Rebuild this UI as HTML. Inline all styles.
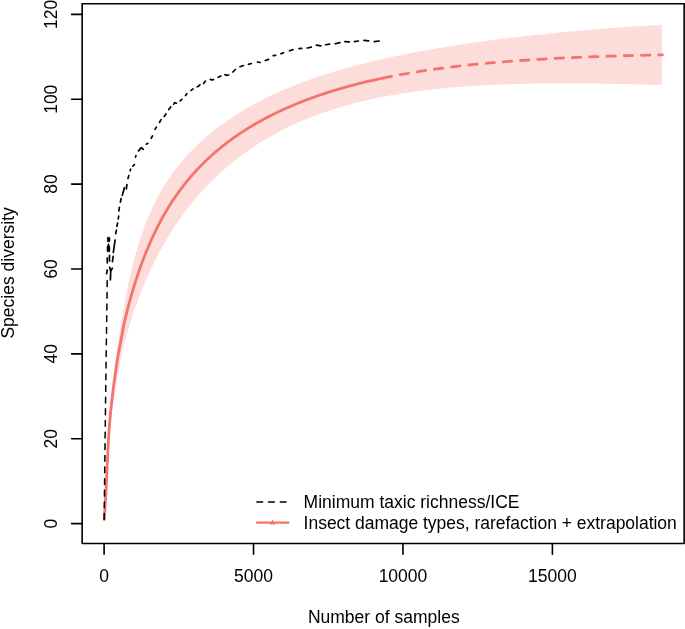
<!DOCTYPE html>
<html><head><meta charset="utf-8"><title>Species diversity</title>
<style>html,body{margin:0;padding:0;background:#fff}svg{display:block}</style></head>
<body>
<svg width="685" height="629" viewBox="0 0 685 629">
<rect width="685" height="629" fill="#fff"/>
<path d="M104.27 519.40 L104.39 517.59 L104.50 515.78 L104.62 513.96 L104.73 512.15 L104.84 510.34 L104.95 508.53 L105.06 506.72 L105.16 504.90 L105.27 503.09 L105.37 501.28 L105.47 499.47 L105.57 497.65 L105.66 495.84 L105.76 494.03 L105.85 492.22 L105.94 490.41 L106.03 488.59 L106.12 486.78 L106.20 484.97 L106.28 483.16 L106.37 481.35 L106.44 479.53 L106.52 477.72 L106.59 475.91 L106.66 474.10 L106.73 472.28 L106.80 470.47 L106.86 468.66 L106.93 466.85 L107.00 465.04 L107.07 463.22 L107.14 461.41 L107.21 459.60 L107.27 457.79 L107.34 455.98 L107.40 454.16 L107.47 452.35 L107.53 450.54 L107.60 448.73 L107.67 446.92 L107.74 445.10 L107.81 443.29 L107.89 441.48 L107.97 439.67 L108.06 437.85 L108.15 436.04 L108.24 434.23 L108.33 432.42 L108.43 430.61 L108.54 428.79 L108.64 426.98 L108.75 425.17 L108.87 423.36 L108.98 421.55 L109.10 419.73 L109.23 417.92 L109.37 416.11 L109.51 414.30 L109.66 412.48 L109.82 410.67 L109.98 408.86 L110.14 407.05 L110.30 405.24 L110.47 403.42 L110.64 401.61 L110.81 399.80 L110.98 397.99 L111.16 396.18 L111.35 394.36 L111.53 392.55 L111.72 390.74 L111.91 388.93 L112.11 387.12 L112.31 385.30 L112.51 383.49 L112.72 381.68 L112.93 379.87 L113.15 378.05 L113.36 376.24 L113.58 374.43 L113.80 372.62 L114.02 370.81 L114.24 368.99 L114.45 367.18 L114.67 365.37 L114.90 363.56 L115.13 361.75 L115.36 359.93 L115.60 358.12 L115.85 356.31 L116.12 354.50 L116.40 352.68 L116.70 350.87 L117.00 349.06 L117.32 347.25 L117.63 345.44 L117.94 343.62 L118.24 341.81 L118.54 340.00 L120.35 327.84 L122.17 316.58 L123.99 306.13 L125.81 296.42 L127.62 287.38 L129.44 278.96 L131.26 271.09 L133.08 263.74 L134.89 256.85 L136.71 250.39 L138.53 244.31 L140.35 238.59 L142.17 233.20 L143.98 228.10 L145.80 223.28 L147.62 218.71 L149.44 214.37 L151.25 210.24 L153.07 206.31 L154.89 202.56 L156.71 198.97 L158.52 195.54 L160.34 192.26 L162.16 189.10 L163.98 186.07 L165.79 183.16 L167.61 180.35 L169.43 177.63 L171.25 175.02 L173.06 172.48 L174.88 170.03 L176.70 167.66 L178.52 165.36 L180.33 163.12 L182.15 160.95 L183.97 158.84 L185.79 156.78 L187.61 154.78 L189.42 152.83 L191.24 150.93 L193.06 149.07 L194.88 147.26 L196.69 145.49 L198.51 143.76 L200.33 142.07 L202.15 140.41 L203.96 138.79 L205.78 137.21 L207.60 135.65 L209.42 134.13 L211.23 132.64 L213.05 131.17 L214.87 129.74 L216.69 128.33 L218.50 126.94 L220.32 125.59 L222.14 124.25 L223.96 122.94 L225.77 121.66 L227.59 120.39 L229.41 119.15 L231.23 117.93 L233.05 116.73 L234.86 115.55 L236.68 114.39 L238.50 113.25 L240.32 112.13 L242.13 111.02 L243.95 109.94 L245.77 108.87 L247.59 107.81 L249.40 106.78 L251.22 105.75 L253.04 104.75 L254.86 103.76 L256.67 102.78 L258.49 101.82 L260.31 100.88 L262.13 99.95 L263.94 99.03 L265.76 98.12 L267.58 97.23 L269.40 96.35 L271.21 95.49 L273.03 94.63 L274.85 93.79 L276.67 92.96 L278.49 92.14 L280.30 91.34 L282.12 90.54 L283.94 89.76 L285.76 88.98 L287.57 88.22 L289.39 87.46 L291.21 86.72 L293.03 85.99 L294.84 85.26 L296.66 84.55 L298.48 83.85 L300.30 83.15 L302.11 82.46 L303.93 81.79 L305.75 81.12 L307.57 80.46 L309.38 79.81 L311.20 79.16 L313.02 78.53 L314.84 77.90 L316.66 77.28 L318.47 76.66 L320.29 76.06 L322.11 75.46 L323.93 74.87 L325.74 74.29 L327.56 73.71 L329.38 73.14 L331.20 72.58 L333.01 72.02 L334.83 71.47 L336.65 70.93 L338.47 70.39 L340.28 69.86 L342.10 69.34 L343.92 68.82 L345.74 68.31 L347.55 67.80 L349.37 67.30 L351.19 66.80 L353.01 66.31 L354.82 65.83 L356.64 65.35 L358.46 64.87 L360.28 64.40 L362.10 63.94 L363.91 63.48 L365.73 63.03 L367.55 62.58 L369.37 62.13 L371.18 61.69 L373.00 61.26 L374.82 60.82 L376.64 60.40 L378.45 59.98 L380.27 59.56 L382.09 59.14 L383.91 58.73 L385.72 58.33 L387.54 57.93 L389.36 57.53 L391.18 57.14 L392.99 56.75 L394.81 56.36 L396.63 55.98 L398.45 55.60 L400.26 55.23 L402.08 54.86 L403.90 54.49 L405.72 54.13 L407.54 53.76 L409.35 53.41 L411.17 53.05 L412.99 52.70 L414.81 52.36 L416.62 52.01 L418.44 51.67 L420.26 51.33 L422.08 51.00 L423.89 50.67 L425.71 50.34 L427.53 50.02 L429.35 49.69 L431.16 49.37 L432.98 49.06 L434.80 48.74 L436.62 48.43 L438.43 48.12 L440.25 47.82 L442.07 47.51 L443.89 47.21 L445.71 46.92 L447.52 46.62 L449.34 46.33 L451.16 46.04 L452.98 45.75 L454.79 45.47 L456.61 45.18 L458.43 44.90 L460.25 44.63 L462.06 44.35 L463.88 44.08 L465.70 43.81 L467.52 43.54 L469.33 43.27 L471.15 43.01 L472.97 42.75 L474.79 42.49 L476.60 42.23 L478.42 41.98 L480.24 41.72 L482.06 41.47 L483.87 41.22 L485.69 40.98 L487.51 40.73 L489.33 40.49 L491.15 40.25 L492.96 40.01 L494.78 39.77 L496.60 39.54 L498.42 39.31 L500.23 39.08 L502.05 38.85 L503.87 38.62 L505.69 38.40 L507.50 38.17 L509.32 37.95 L511.14 37.73 L512.96 37.51 L514.77 37.30 L516.59 37.08 L518.41 36.87 L520.23 36.66 L522.04 36.45 L523.86 36.24 L525.68 36.04 L527.50 35.84 L529.31 35.63 L531.13 35.43 L532.95 35.23 L534.77 35.04 L536.59 34.84 L538.40 34.65 L540.22 34.46 L542.04 34.26 L543.86 34.08 L545.67 33.89 L547.49 33.70 L549.31 33.52 L551.13 33.33 L552.94 33.15 L554.76 32.97 L556.58 32.80 L558.40 32.62 L560.21 32.44 L562.03 32.27 L563.85 32.10 L565.67 31.93 L567.48 31.76 L569.30 31.59 L571.12 31.42 L572.94 31.26 L574.75 31.10 L576.57 30.93 L578.39 30.77 L580.21 30.61 L582.03 30.46 L583.84 30.30 L585.66 30.14 L587.48 29.99 L589.30 29.84 L591.11 29.69 L592.93 29.54 L594.75 29.39 L596.57 29.24 L598.38 29.10 L600.20 28.95 L602.02 28.81 L603.84 28.67 L605.65 28.53 L607.47 28.39 L609.29 28.25 L611.11 28.12 L612.92 27.98 L614.74 27.85 L616.56 27.72 L618.38 27.59 L620.20 27.46 L622.01 27.33 L623.83 27.20 L625.65 27.07 L627.47 26.95 L629.28 26.83 L631.10 26.70 L632.92 26.58 L634.74 26.46 L636.55 26.35 L638.37 26.23 L640.19 26.11 L642.01 26.00 L643.82 25.88 L645.64 25.77 L647.46 25.66 L649.28 25.55 L651.09 25.44 L652.91 25.33 L654.73 25.23 L656.55 25.12 L658.36 25.02 L660.18 24.92 L662.00 24.82 L662.00 85.11 L660.20 85.06 L658.41 85.00 L656.61 84.94 L654.82 84.89 L653.02 84.84 L651.23 84.78 L649.43 84.73 L647.64 84.68 L645.84 84.63 L644.05 84.58 L642.25 84.53 L640.46 84.48 L638.66 84.43 L636.86 84.39 L635.07 84.34 L633.27 84.29 L631.48 84.25 L629.68 84.21 L627.89 84.16 L626.09 84.12 L624.30 84.08 L622.50 84.04 L620.71 84.00 L618.91 83.97 L617.11 83.93 L615.32 83.89 L613.52 83.86 L611.73 83.83 L609.93 83.79 L608.14 83.76 L606.34 83.73 L604.55 83.70 L602.75 83.67 L600.96 83.65 L599.16 83.62 L597.37 83.60 L595.57 83.57 L593.77 83.55 L591.98 83.53 L590.18 83.51 L588.39 83.49 L586.59 83.47 L584.80 83.46 L583.00 83.44 L581.21 83.43 L579.41 83.41 L577.62 83.40 L575.82 83.39 L574.03 83.39 L572.23 83.38 L570.43 83.37 L568.64 83.37 L566.84 83.37 L565.05 83.37 L563.25 83.37 L561.46 83.37 L559.66 83.37 L557.87 83.38 L556.07 83.39 L554.28 83.39 L552.48 83.40 L550.69 83.42 L548.89 83.43 L547.09 83.44 L545.30 83.46 L543.50 83.48 L541.71 83.50 L539.91 83.52 L538.12 83.55 L536.32 83.57 L534.53 83.60 L532.73 83.63 L530.94 83.66 L529.14 83.70 L527.34 83.73 L525.55 83.77 L523.75 83.81 L521.96 83.85 L520.16 83.90 L518.37 83.94 L516.57 83.99 L514.78 84.04 L512.98 84.10 L511.19 84.15 L509.39 84.21 L507.60 84.27 L505.80 84.33 L504.00 84.40 L502.21 84.47 L500.41 84.54 L498.62 84.61 L496.82 84.68 L495.03 84.76 L493.23 84.84 L491.44 84.92 L489.64 85.01 L487.85 85.10 L486.05 85.19 L484.26 85.28 L482.46 85.38 L480.66 85.48 L478.87 85.58 L477.07 85.69 L475.28 85.80 L473.48 85.91 L471.69 86.03 L469.89 86.15 L468.10 86.27 L466.30 86.39 L464.51 86.52 L462.71 86.65 L460.91 86.79 L459.12 86.93 L457.32 87.07 L455.53 87.22 L453.73 87.36 L451.94 87.52 L450.14 87.68 L448.35 87.84 L446.55 88.00 L444.76 88.17 L442.96 88.34 L441.17 88.52 L439.37 88.70 L437.57 88.88 L435.78 89.07 L433.98 89.27 L432.19 89.46 L430.39 89.67 L428.60 89.87 L426.80 90.08 L425.01 90.30 L423.21 90.52 L421.42 90.74 L419.62 90.97 L417.83 91.21 L416.03 91.45 L414.23 91.69 L412.44 91.94 L410.64 92.20 L408.85 92.46 L407.05 92.72 L405.26 92.99 L403.46 93.27 L401.67 93.55 L399.87 93.84 L398.08 94.13 L396.28 94.43 L394.48 94.73 L392.69 95.04 L390.89 95.36 L389.10 95.68 L387.30 96.01 L385.51 96.35 L383.71 96.69 L381.92 97.04 L380.12 97.39 L378.33 97.75 L376.53 98.12 L374.74 98.50 L372.94 98.88 L371.14 99.27 L369.35 99.66 L367.55 100.07 L365.76 100.48 L363.96 100.90 L362.17 101.32 L360.37 101.76 L358.58 102.20 L356.78 102.65 L354.99 103.11 L353.19 103.57 L351.40 104.05 L349.60 104.53 L347.80 105.02 L346.01 105.52 L344.21 106.03 L342.42 106.55 L340.62 107.07 L338.83 107.61 L337.03 108.15 L335.24 108.71 L333.44 109.27 L331.65 109.85 L329.85 110.43 L328.06 111.03 L326.26 111.63 L324.46 112.24 L322.67 112.87 L320.87 113.51 L319.08 114.15 L317.28 114.81 L315.49 115.48 L313.69 116.16 L311.90 116.85 L310.10 117.56 L308.31 118.27 L306.51 119.00 L304.71 119.74 L302.92 120.49 L301.12 121.26 L299.33 122.03 L297.53 122.82 L295.74 123.63 L293.94 124.45 L292.15 125.28 L290.35 126.12 L288.56 126.98 L286.76 127.86 L284.97 128.74 L283.17 129.65 L281.37 130.56 L279.58 131.50 L277.78 132.45 L275.99 133.41 L274.19 134.39 L272.40 135.39 L270.60 136.40 L268.81 137.43 L267.01 138.48 L265.22 139.54 L263.42 140.62 L261.63 141.72 L259.83 142.84 L258.03 143.98 L256.24 145.14 L254.44 146.31 L252.65 147.51 L250.85 148.72 L249.06 149.96 L247.26 151.22 L245.47 152.49 L243.67 153.79 L241.88 155.12 L240.08 156.46 L238.28 157.83 L236.49 159.22 L234.69 160.63 L232.90 162.07 L231.10 163.53 L229.31 165.02 L227.51 166.54 L225.72 168.08 L223.92 169.65 L222.13 171.24 L220.33 172.87 L218.54 174.52 L216.74 176.21 L214.94 177.92 L213.15 179.67 L211.35 181.44 L209.56 183.26 L207.76 185.10 L205.97 186.98 L204.17 188.89 L202.38 190.84 L200.58 192.83 L198.79 194.86 L196.99 196.93 L195.20 199.04 L193.40 201.19 L191.60 203.38 L189.81 205.62 L188.01 207.91 L186.22 210.24 L184.42 212.62 L182.63 215.06 L180.83 217.55 L179.04 220.09 L177.24 222.69 L175.45 225.35 L173.65 228.08 L171.85 230.86 L170.06 233.72 L168.26 236.64 L166.47 239.64 L164.67 242.71 L162.88 245.86 L161.08 249.09 L159.29 252.41 L157.49 255.82 L155.70 259.32 L153.90 262.92 L152.11 266.63 L150.31 270.44 L148.51 274.37 L146.72 278.42 L144.92 282.59 L143.13 286.90 L141.33 291.35 L139.54 295.96 L137.74 300.72 L135.95 305.66 L134.15 310.78 L132.36 316.11 L130.56 321.67 L128.77 327.48 L126.97 333.57 L125.17 340.00 L124.75 341.81 L124.31 343.62 L123.87 345.44 L123.43 347.25 L122.99 349.06 L122.56 350.87 L122.13 352.68 L121.73 354.50 L121.34 356.31 L120.97 358.12 L120.60 359.93 L120.25 361.75 L119.91 363.56 L119.57 365.37 L119.23 367.18 L118.90 368.99 L118.57 370.81 L118.24 372.62 L117.91 374.43 L117.59 376.24 L117.27 378.05 L116.95 379.87 L116.63 381.68 L116.32 383.49 L116.02 385.30 L115.72 387.12 L115.42 388.93 L115.14 390.74 L114.85 392.55 L114.57 394.36 L114.30 396.18 L114.02 397.99 L113.76 399.80 L113.50 401.61 L113.24 403.42 L112.99 405.24 L112.74 407.05 L112.50 408.86 L112.25 410.67 L112.02 412.48 L111.79 414.30 L111.57 416.11 L111.36 417.92 L111.15 419.73 L110.96 421.55 L110.77 423.36 L110.58 425.17 L110.40 426.98 L110.23 428.79 L110.06 430.61 L109.89 432.42 L109.73 434.23 L109.58 436.04 L109.43 437.85 L109.28 439.67 L109.14 441.48 L109.01 443.29 L108.88 445.10 L108.75 446.92 L108.63 448.73 L108.51 450.54 L108.40 452.35 L108.28 454.16 L108.17 455.98 L108.06 457.79 L107.94 459.60 L107.83 461.41 L107.72 463.22 L107.61 465.04 L107.50 466.85 L107.40 468.66 L107.29 470.47 L107.19 472.28 L107.08 474.10 L106.98 475.91 L106.88 477.72 L106.77 479.53 L106.66 481.35 L106.56 483.16 L106.45 484.97 L106.33 486.78 L106.22 488.59 L106.11 490.41 L106.00 492.22 L105.89 494.03 L105.78 495.84 L105.66 497.65 L105.55 499.47 L105.44 501.28 L105.32 503.09 L105.21 504.90 L105.09 506.72 L104.98 508.53 L104.86 510.34 L104.74 512.15 L104.63 513.96 L104.51 515.78 L104.39 517.59 L104.27 519.40Z" fill="#F8766D" fill-opacity="0.25" stroke="none"/>
<path d="M104.27 519.40 L104.36 518.09 L104.44 516.79 L104.52 515.48 L104.61 514.17 L104.69 512.86 L104.77 511.56 L104.85 510.25 L104.94 508.94 L105.02 507.63 L105.09 506.33 L105.17 505.02 L105.25 503.71 L105.33 502.40 L105.40 501.10 L105.48 499.79 L105.56 498.48 L105.63 497.17 L105.70 495.87 L105.78 494.56 L105.85 493.25 L105.92 491.94 L105.99 490.64 L106.06 489.33 L106.13 488.02 L106.20 486.72 L106.27 485.41 L106.34 484.10 L106.41 482.79 L106.47 481.49 L106.54 480.18 L106.60 478.87 L106.66 477.56 L106.72 476.26 L106.78 474.95 L106.84 473.64 L106.90 472.33 L106.96 471.03 L107.02 469.72 L107.08 468.41 L107.14 467.10 L107.20 465.80 L107.26 464.49 L107.32 463.18 L107.38 461.87 L107.44 460.57 L107.50 459.26 L107.56 457.95 L107.62 456.65 L107.68 455.34 L107.74 454.03 L107.80 452.72 L107.86 451.42 L107.93 450.11 L107.99 448.80 L108.05 447.49 L108.12 446.19 L108.18 444.88 L108.25 443.57 L108.32 442.26 L108.40 440.96 L108.47 439.65 L108.55 438.34 L108.63 437.03 L108.71 435.73 L108.79 434.42 L108.88 433.11 L108.97 431.80 L109.06 430.50 L109.15 429.19 L109.24 427.88 L109.34 426.57 L109.44 425.27 L109.54 423.96 L109.64 422.65 L109.75 421.35 L109.86 420.04 L109.97 418.73 L110.08 417.42 L110.20 416.12 L110.32 414.81 L110.45 413.50 L110.58 412.19 L110.72 410.89 L110.85 409.58 L110.99 408.27 L111.13 406.96 L111.28 405.66 L111.42 404.35 L111.56 403.04 L111.71 401.73 L111.85 400.43 L112.00 399.12 L112.16 397.81 L112.31 396.50 L112.47 395.20 L112.63 393.89 L112.79 392.58 L112.95 391.28 L113.11 389.97 L113.28 388.66 L113.44 387.35 L113.61 386.05 L113.79 384.74 L113.96 383.43 L114.14 382.12 L114.32 380.82 L114.50 379.51 L114.68 378.20 L114.87 376.89 L115.06 375.59 L115.24 374.28 L115.43 372.97 L115.62 371.66 L115.81 370.36 L116.00 369.05 L116.18 367.74 L116.37 366.43 L116.56 365.13 L116.76 363.82 L116.95 362.51 L117.15 361.21 L117.35 359.90 L117.56 358.59 L117.77 357.28 L117.99 355.98 L118.21 354.67 L118.45 353.36 L118.69 352.05 L118.94 350.75 L119.20 349.44 L119.45 348.13 L119.71 346.82 L119.98 345.52 L120.24 344.21 L120.49 342.90 L120.75 341.59 L121.00 340.29 L121.24 338.98 L121.47 337.67 L121.70 336.36 L121.93 335.06 L122.16 333.75 L122.39 332.44 L122.62 331.14 L122.86 329.83 L123.10 328.52 L123.36 327.21 L123.62 325.91 L123.90 324.60 L124.18 323.29 L124.47 321.98 L124.76 320.68 L125.06 319.37 L125.37 318.06 L125.68 316.75 L126.00 315.45 L126.33 314.14 L126.66 312.83 L127.00 311.52 L128.17 306.92 L129.34 302.49 L130.51 298.22 L131.68 294.09 L132.85 290.10 L134.02 286.23 L135.19 282.48 L136.36 278.84 L137.53 275.30 L138.70 271.86 L139.87 268.52 L141.04 265.26 L142.21 262.08 L143.38 258.99 L144.55 255.98 L145.73 253.03 L146.90 250.16 L148.07 247.36 L149.24 244.63 L150.41 241.95 L151.58 239.34 L152.75 236.79 L153.92 234.30 L155.09 231.86 L156.26 229.47 L157.43 227.14 L158.60 224.85 L159.77 222.62 L160.94 220.43 L162.11 218.28 L163.28 216.18 L164.45 214.12 L165.62 212.11 L166.79 210.13 L167.96 208.19 L169.13 206.29 L170.30 204.43 L171.47 202.60 L172.64 200.80 L173.81 199.04 L174.98 197.31 L176.15 195.62 L177.32 193.95 L178.49 192.31 L179.66 190.70 L180.83 189.12 L182.01 187.57 L183.18 186.04 L184.35 184.54 L185.52 183.06 L186.69 181.61 L187.86 180.18 L189.03 178.78 L190.20 177.40 L191.37 176.04 L192.54 174.70 L193.71 173.38 L194.88 172.08 L196.05 170.80 L197.22 169.54 L198.39 168.30 L199.56 167.08 L200.73 165.87 L201.90 164.68 L203.07 163.51 L204.24 162.36 L205.41 161.22 L206.58 160.10 L207.75 159.00 L208.92 157.90 L210.09 156.83 L211.26 155.77 L212.43 154.72 L213.60 153.69 L214.77 152.66 L215.94 151.66 L217.11 150.66 L218.28 149.68 L219.46 148.71 L220.63 147.76 L221.80 146.81 L222.97 145.88 L224.14 144.96 L225.31 144.05 L226.48 143.15 L227.65 142.26 L228.82 141.38 L229.99 140.51 L231.16 139.65 L232.33 138.81 L233.50 137.97 L234.67 137.14 L235.84 136.32 L237.01 135.51 L238.18 134.71 L239.35 133.92 L240.52 133.14 L241.69 132.36 L242.86 131.60 L244.03 130.84 L245.20 130.09 L246.37 129.35 L247.54 128.62 L248.71 127.90 L249.88 127.18 L251.05 126.47 L252.22 125.77 L253.39 125.07 L254.56 124.39 L255.74 123.71 L256.91 123.03 L258.08 122.37 L259.25 121.71 L260.42 121.06 L261.59 120.41 L262.76 119.77 L263.93 119.14 L265.10 118.51 L266.27 117.89 L267.44 117.28 L268.61 116.67 L269.78 116.07 L270.95 115.47 L272.12 114.88 L273.29 114.30 L274.46 113.72 L275.63 113.15 L276.80 112.58 L277.97 112.02 L279.14 111.47 L280.31 110.92 L281.48 110.37 L282.65 109.83 L283.82 109.30 L284.99 108.77 L286.16 108.24 L287.33 107.72 L288.50 107.21 L289.67 106.70 L290.84 106.19 L292.02 105.69 L293.19 105.20 L294.36 104.71 L295.53 104.22 L296.70 103.74 L297.87 103.26 L299.04 102.79 L300.21 102.32 L301.38 101.86 L302.55 101.40 L303.72 100.94 L304.89 100.49 L306.06 100.04 L307.23 99.60 L308.40 99.16 L309.57 98.73 L310.74 98.30 L311.91 97.87 L313.08 97.45 L314.25 97.03 L315.42 96.61 L316.59 96.20 L317.76 95.80 L318.93 95.39 L320.10 94.99 L321.27 94.60 L322.44 94.20 L323.61 93.81 L324.78 93.43 L325.95 93.05 L327.12 92.67 L328.29 92.29 L329.47 91.92 L330.64 91.55 L331.81 91.19 L332.98 90.83 L334.15 90.47 L335.32 90.11 L336.49 89.76 L337.66 89.41 L338.83 89.07 L340.00 88.72 L341.17 88.39 L342.34 88.05 L343.51 87.72 L344.68 87.39 L345.85 87.06 L347.02 86.73 L348.19 86.41 L349.36 86.09 L350.53 85.78 L351.70 85.47 L352.87 85.16 L354.04 84.85 L355.21 84.54 L356.38 84.24 L357.55 83.94 L358.72 83.65 L359.89 83.35 L361.06 83.06 L362.23 82.78 L363.40 82.49 L364.57 82.21 L365.75 81.93 L366.92 81.65 L368.09 81.37 L369.26 81.10 L370.43 80.83 L371.60 80.56 L372.77 80.29 L373.94 80.03 L375.11 79.77 L376.28 79.51 L377.45 79.26 L378.62 79.00 L379.79 78.75 L380.96 78.50 L382.13 78.25 L383.30 78.01" fill="none" stroke="#F2746D" stroke-width="2.8" stroke-linecap="round" stroke-linejoin="round"/>
<path d="M383.30 78.01 L386.44 77.36 L389.57 76.73 L392.71 76.12 L395.84 75.52 L398.98 74.93 L402.12 74.36 L405.25 73.80 L408.39 73.26 L411.52 72.73 L414.66 72.21 L417.80 71.70 L420.93 71.21 L424.07 70.73 L427.20 70.26 L430.34 69.80 L433.48 69.35 L436.61 68.91 L439.75 68.49 L442.88 68.07 L446.02 67.67 L449.16 67.27 L452.29 66.89 L455.43 66.51 L458.56 66.14 L461.70 65.78 L464.83 65.44 L467.97 65.09 L471.11 64.76 L474.24 64.44 L477.38 64.12 L480.51 63.82 L483.65 63.52 L486.79 63.22 L489.92 62.94 L493.06 62.66 L496.19 62.39 L499.33 62.12 L502.47 61.87 L505.60 61.62 L508.74 61.37 L511.87 61.13 L515.01 60.90 L518.15 60.67 L521.28 60.45 L524.42 60.24 L527.55 60.03 L530.69 59.83 L533.83 59.63 L536.96 59.44 L540.10 59.25 L543.23 59.07 L546.37 58.89 L549.51 58.71 L552.64 58.55 L555.78 58.38 L558.91 58.22 L562.05 58.07 L565.19 57.92 L568.32 57.77 L571.46 57.63 L574.59 57.49 L577.73 57.35 L580.87 57.22 L584.00 57.09 L587.14 56.97 L590.27 56.85 L593.41 56.73 L596.54 56.62 L599.68 56.51 L602.82 56.40 L605.95 56.30 L609.09 56.20 L612.22 56.10 L615.36 56.01 L618.50 55.92 L621.63 55.83 L624.77 55.74 L627.90 55.66 L631.04 55.58 L634.18 55.50 L637.31 55.42 L640.45 55.35 L643.58 55.28 L646.72 55.21 L649.86 55.14 L652.99 55.08 L656.13 55.02 L659.26 54.96 L662.40 54.90" fill="none" stroke="#F2746D" stroke-width="2.8" stroke-dasharray="8.44 8.86" stroke-linecap="round" stroke-linejoin="round"/>
<path d="M104.15 519.4 L105.2 430 L106.45 335 L107.0 300 L107.2 280.4" fill="none" stroke="#000" stroke-width="1.5" stroke-dasharray="5.8 5.84" stroke-linecap="round" stroke-linejoin="round"/>
<path d="M106.63 273.66 L107.17 270.04 M107.26 262.85 L107.29 257.75 M109.50 255.45 L109.50 260.95 M109.61 267.22 L110.70 271.40 L110.40 280.00 L110.70 271.40 L112.32 268.16 M112.42 261.56 L113.18 256.34 M113.32 252.36 L115.08 240.04 M115.75 233.66 L116.40 230.14 M116.89 226.27 L117.61 223.03 M118.23 218.96 L118.67 216.04 M118.91 210.86 L119.39 207.34 M120.37 202.17 L121.13 198.53 M122.33 195.18 L124.37 187.72 M126.40 188.86 L126.90 184.64 M127.95 178.39 L128.85 175.51 M130.08 170.70 L130.62 169.20 M132.91 166.11 L134.39 164.69 M135.54 157.09 L135.96 155.71 M138.46 150.86 L141.30 147.60 L143.26 149.34 M146.34 144.18 L147.86 143.32 M151.21 138.26 L152.49 135.94 M155.03 129.37 L156.37 127.13 M159.51 122.46 L161.09 119.64 M164.18 116.40 L165.92 113.90 M168.80 109.51 L170.70 106.89 M173.74 104.17 L174.70 102.60 L176.40 103.20 M180.14 100.84 L181.86 99.36 M185.59 95.51 L186.81 93.79 M191.08 90.39 L193.02 88.91 M197.20 86.81 L198.60 86.30 L199.86 84.76 M203.54 83.44 L205.46 81.06 M210.28 79.33 L211.60 79.90 L213.56 79.55 M218.17 77.25 L220.83 76.05 M225.08 74.64 L226.60 75.30 L228.76 75.01 M232.81 72.01 L235.39 69.49 M240.00 66.73 L243.40 65.57 M248.42 64.36 L251.28 63.54 M257.34 62.03 L260.16 62.47 M265.40 60.43 L268.50 59.37 M273.24 55.68 L275.66 55.32 M280.99 53.77 L283.51 52.73 M289.50 50.81 L292.90 49.59 M298.94 48.71 L301.76 48.39 M307.23 48.02 L311.27 47.18 M316.34 45.21 L320.86 45.79 M325.64 44.77 L329.56 44.13 M335.32 43.79 L339.88 42.61 M344.85 41.57 L349.35 41.93 M354.44 41.67 L358.46 41.03 M363.85 40.29 L368.65 40.81 M374.24 41.69 L379.16 41.01" fill="none" stroke="#000" stroke-width="1.7" stroke-linecap="round" stroke-linejoin="round"/>
<path d="M106.9 251.8 L106.9 247 L108.5 243.2 L110 247 L110 251.8Z M107.2 237.2 H110 V241.7 H107.2Z" fill="#000" stroke="#000" stroke-width="0.4" stroke-linejoin="round"/>
<rect x="82.15" y="3.75" width="602" height="539.8" fill="none" stroke="#000" stroke-width="1.6" stroke-linejoin="round"/>
<path d="M71.6 523.60 H82.1 M71.6 438.73 H82.1 M71.6 353.86 H82.1 M71.6 268.99 H82.1 M71.6 184.12 H82.1 M71.6 99.25 H82.1 M71.6 14.38 H82.1 M104.10 543.6 V554.2 M253.53 543.6 V554.2 M402.97 543.6 V554.2 M552.40 543.6 V554.2" fill="none" stroke="#000" stroke-width="1.6" stroke-linecap="round"/>
<g font-family="'Liberation Sans', Arial, Helvetica, sans-serif" font-size="17.5" fill="#000"><text x="104.10" y="581.7" text-anchor="middle">0</text>
<text x="253.53" y="581.7" text-anchor="middle">5000</text>
<text x="402.97" y="581.7" text-anchor="middle">10000</text>
<text x="552.40" y="581.7" text-anchor="middle">15000</text>
<text transform="translate(56.5 523.60) rotate(-90)" text-anchor="middle">0</text>
<text transform="translate(56.5 438.73) rotate(-90)" text-anchor="middle">20</text>
<text transform="translate(56.5 353.86) rotate(-90)" text-anchor="middle">40</text>
<text transform="translate(56.5 268.99) rotate(-90)" text-anchor="middle">60</text>
<text transform="translate(56.5 184.12) rotate(-90)" text-anchor="middle">80</text>
<text transform="translate(56.5 99.25) rotate(-90)" text-anchor="middle">100</text>
<text transform="translate(56.5 14.38) rotate(-90)" text-anchor="middle">120</text>
<text x="383.8" y="623.3" text-anchor="middle">Number of samples</text>
<text transform="translate(13.9 272.9) rotate(-90)" text-anchor="middle">Species diversity</text>
<text x="303.6" y="507.6">Minimum taxic richness/ICE</text>
<text x="303.6" y="529.1" textLength="373.2" lengthAdjust="spacing">Insect damage types, rarefaction + extrapolation</text></g>
<path d="M256.8 502 H286.2" stroke="#000" stroke-width="1.45" stroke-dasharray="5.87 5.87" stroke-linecap="round" fill="none"/>
<path d="M257.1 522.6 H288.4" stroke="#F2746D" stroke-width="2.4" stroke-linecap="round" fill="none"/>
<path d="M272.5 519.6 L275.3 524.6 H269.7Z" fill="#F2746D"/>
</svg>
</body></html>
